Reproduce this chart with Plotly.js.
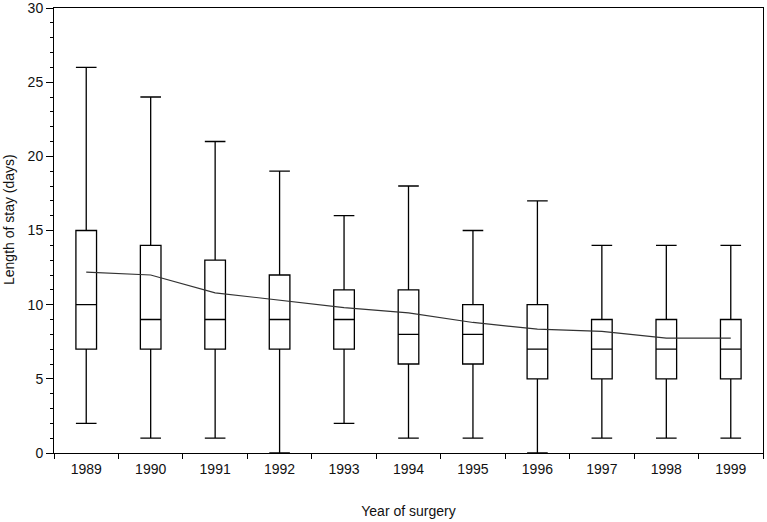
<!DOCTYPE html>
<html>
<head>
<meta charset="utf-8">
<script src="https://cdn.plot.ly/plotly-3.0.1.min.js"></script>
<style>
  html, body { margin: 0; padding: 0; background: #fff; }
  #plot { width: 767px; height: 522px; }
</style>
</head>
<body>
<div id="plot"></div>
<script>
// year of surgery and length-of-stay summaries (days)
const years = ["1989", "1990", "1991", "1992", "1993", "1994", "1995", "1996", "1997", "1998", "1999"];
const minStay = [2, 1, 1, 0, 2, 1, 1, 0, 1, 1, 1];
const q1Stay = [7, 7, 7, 7, 7, 6, 6, 5, 5, 5, 5];
const medianStay = [10, 9, 9, 9, 9, 8, 8, 7, 7, 7, 7];
const q3Stay = [15, 14, 13, 12, 11, 11, 10, 10, 9, 9, 9];
const maxStay = [26, 24, 21, 19, 16, 18, 15, 17, 14, 14, 14];
const meanStay = [12.2, 12.0, 10.8, 10.3, 9.8, 9.45, 8.8, 8.35, 8.2, 7.75, 7.75];

const fontFamily = "'Liberation Sans', Arial, sans-serif";

const data = [
    {
        type: "box",
        x: years,
        q1: q1Stay,
        median: medianStay,
        q3: q3Stay,
        lowerfence: minStay,
        upperfence: maxStay,
        width: 0.32,
        whiskerwidth: 1,
        boxpoints: false,
        fillcolor: "#ffffff",
        line: { color: "#000000", width: 1.3 },
        showlegend: false,
        name: "Length of stay"
    },
    {
        type: "scatter",
        mode: "lines",
        x: years,
        y: meanStay,
        line: { color: "#333333", width: 1.2 },
        showlegend: false,
        name: "Mean"
    }
];

const layout = {
    width: 767,
    height: 522,
    margin: { l: 54, r: 4, t: 8, b: 69 },
    paper_bgcolor: "#ffffff",
    plot_bgcolor: "#ffffff",
    font: { family: fontFamily, size: 14, color: "#111111" },
    xaxis: {
        type: "category",
        range: [-0.5, 10.5],
        tickson: "boundaries",
        ticks: "outside",
        ticklen: 5,
        tickcolor: "#000000",
        ticklabelstandoff: 3,
        showline: true,
        linecolor: "#000000",
        linewidth: 1,
        mirror: true,
        showgrid: false,
        zeroline: false,
        tickfont: { size: 14 },
        title: { text: "Year of surgery", font: { size: 14 }, standoff: 30 }
    },
    yaxis: {
        range: [0, 30],
        dtick: 5,
        ticks: "outside",
        ticklen: 7,
        tickcolor: "#000000",
        ticklabeloverflow: "allow",
        minor: { dtick: 1, ticks: "outside", ticklen: 3, tickcolor: "#000000", showgrid: false },
        showline: true,
        linecolor: "#000000",
        linewidth: 1,
        mirror: true,
        showgrid: false,
        zeroline: false,
        tickfont: { size: 14 }
    },
    annotations: [
        {
            text: "Length of stay (days)",
            textangle: -90,
            xref: "paper",
            yref: "paper",
            x: -54 / 709 + 9 / 709,
            y: (453 - 219) / 445,
            xanchor: "center",
            yanchor: "middle",
            showarrow: false,
            font: { size: 14 }
        }
    ]
};

Plotly.newPlot("plot", data, layout, { displayModeBar: false, staticPlot: true });
</script>
</body>
</html>
